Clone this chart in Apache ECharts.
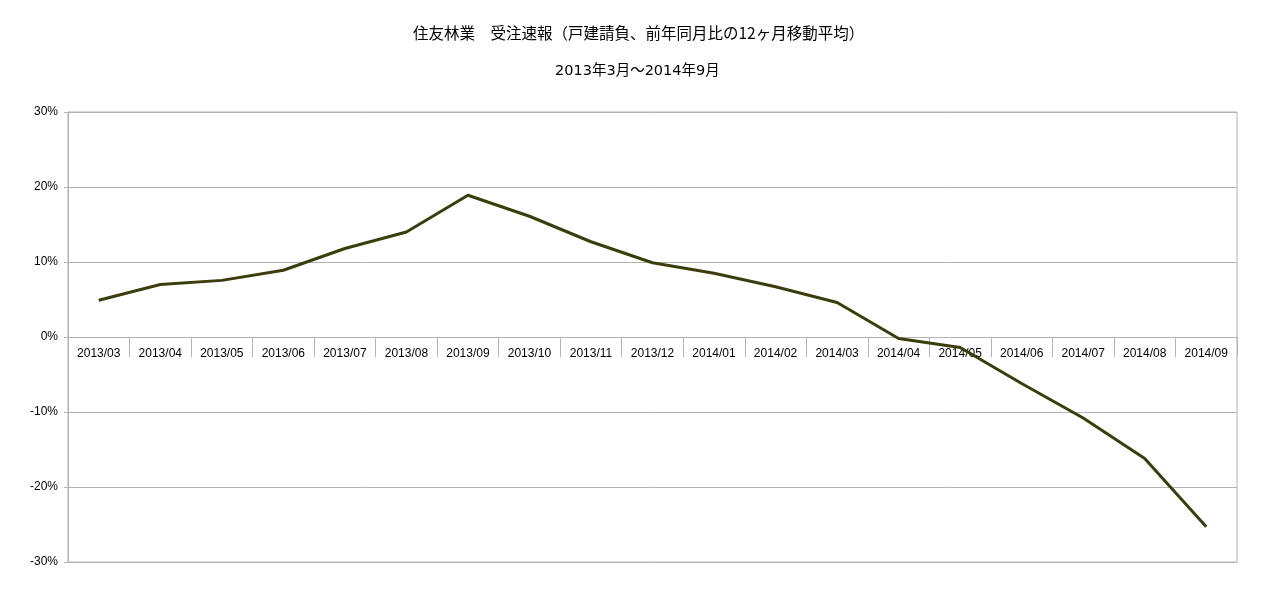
<!DOCTYPE html>
<html><head><meta charset="utf-8">
<script src="https://cdn.jsdelivr.net/npm/echarts@6/dist/echarts.min.js"></script>
<style>html,body{margin:0;padding:0;background:#fff}#c{width:1266px;height:591px}</style>
</head><body><div id="c"></div>
<script>
const categories = ["2013/03","2013/04","2013/05","2013/06","2013/07","2013/08","2013/09","2013/10","2013/11","2013/12","2014/01","2014/02","2014/03","2014/04","2014/05","2014/06","2014/07","2014/08","2014/09"];
const values = [4.9, 7.0, 7.55, 8.9, 11.8, 14.0, 18.9, 16.1, 12.7, 9.9, 8.5, 6.7, 4.6, -0.2, -1.4, -6.2, -10.8, -16.2, -25.3];
const titleText = "住友林業　受注速報（戸建請負、前年同月比の12ヶ月移動平均）";
const subText = "2013年3月～2014年9月";

const chart = echarts.init(document.getElementById('c'));
chart.setOption({
  animation: false,
  backgroundColor: '#fff',
  title: [
    {text: titleText, left: 408, top: 20, textStyle: {fontFamily: 'Noto Sans CJK JP', fontSize: 15.5, fontWeight: 'normal', color: '#000'}},
    {text: subText, left: 550, top: 59, textStyle: {fontFamily: 'DejaVu Sans, Noto Sans CJK JP', fontSize: 14.5, fontWeight: 'normal', color: '#000'}}
  ],
  grid: {left: 68, right: 29, top: 112, bottom: 29, show: true, borderColor: '#b3b3b3', borderWidth: 1},
  xAxis: [{
    type: 'category', data: categories, boundaryGap: true,
    axisLine: {show: false},
    axisTick: {show: false},
    axisLabel: {show: false}
  }, {
    type: 'category', data: categories, boundaryGap: true, position: 'bottom', offset: -225,
    axisLine: {onZero: false, lineStyle: {color: '#b3b3b3', width: 1}},
    axisTick: {show: true, length: 20, lineStyle: {color: '#b3b3b3'}},
    axisLabel: {color: '#000', fontFamily: 'Liberation Sans', fontSize: 12, margin: 11, interval: 0}
  }],
  yAxis: {
    type: 'value', min: -30, max: 30, interval: 10,
    axisLine: {show: true, lineStyle: {color: '#b3b3b3'}},
    axisTick: {show: true, length: 4, lineStyle: {color: '#b3b3b3'}},
    splitLine: {lineStyle: {color: '#b3b3b3'}},
    axisLabel: {formatter: '{value}%', color: '#000', fontFamily: 'Liberation Sans', fontSize: 12, margin: 10}
  },
  series: [{
    type: 'line', data: values, symbol: 'none', xAxisIndex: 0,
    lineStyle: {color: '#3a3d0c', width: 3}
  }]
});
</script></body></html>
